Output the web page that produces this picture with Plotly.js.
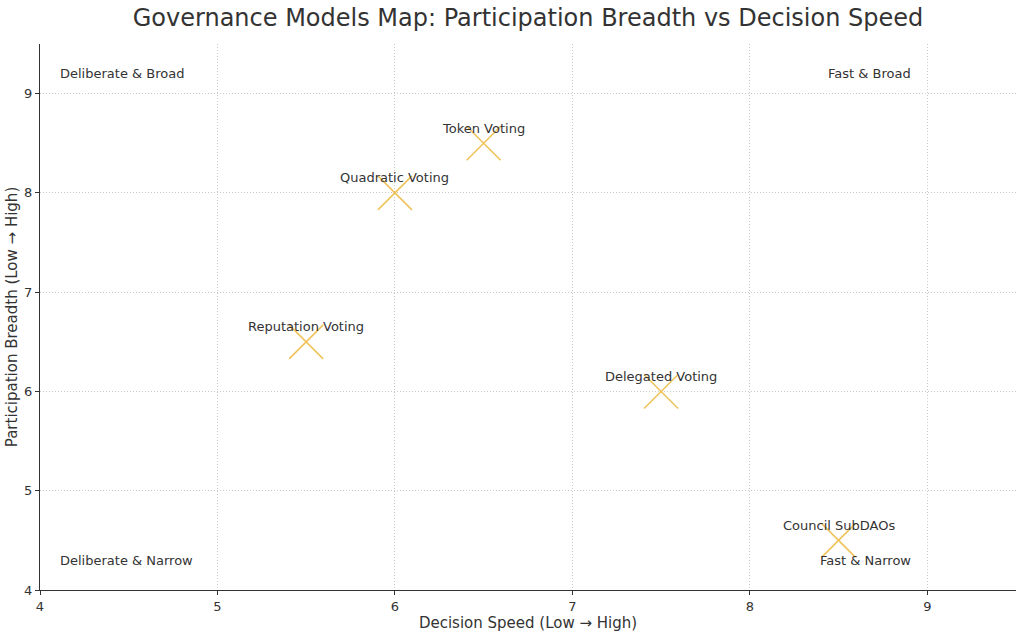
<!DOCTYPE html>
<html>
<head>
<meta charset="utf-8">
<script src="https://cdn.plot.ly/plotly-3.0.1.min.js"></script>
<style>html,body{margin:0;padding:0;background:#fff;}#chart{width:1024px;height:634px;}</style>
</head>
<body>
<div id="chart"></div>
<script>
const models = ["Token Voting", "Quadratic Voting", "Reputation Voting", "Delegated Voting", "Council SubDAOs"];
const decisionSpeed = [6.5, 6.0, 5.5, 7.5, 8.5];
const participation = [8.5, 8.0, 6.5, 6.0, 4.5];

const quadrantLabels = ["Deliberate & Broad", "Fast & Broad", "Deliberate & Narrow", "Fast & Narrow"];
const quadrantX = [4.1, 8.92, 4.1, 8.92];
const quadrantY = [9.2, 9.2, 4.3, 4.3];
const quadrantAnchor = ["left", "right", "left", "right"];

const font = "DejaVu Sans, Verdana, sans-serif";
const textColor = "#333333";

const trace = {
  x: decisionSpeed,
  y: participation,
  mode: "markers",
  type: "scatter",
  marker: {symbol: "x-thin", size: 34, color: "rgba(0,0,0,0)", line: {color: "rgba(236,184,64,0.85)", width: 1.6}},
  hoverinfo: "text",
  text: models
};

const annotations = models.map((m, i) => ({
  x: decisionSpeed[i], y: participation[i], text: m, showarrow: false,
  xanchor: "center", yanchor: "middle", yshift: 15,
  font: {family: font, size: 13, color: textColor}
})).concat(quadrantLabels.map((q, i) => ({
  x: quadrantX[i], y: quadrantY[i], text: q, showarrow: false,
  xanchor: quadrantAnchor[i], yanchor: "middle",
  font: {family: font, size: 13, color: textColor}
})));

const layout = {
  width: 1024, height: 634,
  margin: {l: 40, r: 8, t: 44, b: 44},
  paper_bgcolor: "#fff", plot_bgcolor: "#fff",
  title: {text: "Governance Models Map: Participation Breadth vs Decision Speed", xref: "paper", x: 0.5, xanchor: "center", y: 0.972, yanchor: "middle",
    font: {family: font, size: 24, color: textColor}},
  font: {family: font, color: textColor},
  showlegend: false,
  xaxis: {
    range: [4, 9.5], tickvals: [4,5,6,7,8,9], ticks: "outside", ticklen: 4, tickcolor: "#333",
    showline: true, linecolor: "#333", linewidth: 1, zeroline: false,
    showgrid: true, gridcolor: "#c8c8c8", griddash: "1px,2px", gridwidth: 1,
    tickfont: {family: font, size: 13, color: textColor},
    title: {text: "Decision Speed (Low → High)", font: {family: font, size: 15, color: textColor}, standoff: 1}
  },
  yaxis: {
    range: [4, 9.5], tickvals: [4,5,6,7,8,9], ticks: "outside", ticklen: 4, tickcolor: "#333",
    showline: true, linecolor: "#333", linewidth: 1, zeroline: false,
    showgrid: true, gridcolor: "#c8c8c8", griddash: "1px,2px", gridwidth: 1,
    tickfont: {family: font, size: 13, color: textColor},
    title: {text: "Participation Breadth (Low → High)", font: {family: font, size: 15, color: textColor}, standoff: 2}
  },
  annotations: annotations
};

Plotly.newPlot("chart", [trace], layout, {displayModeBar: false, staticPlot: true});
</script>
</body>
</html>
